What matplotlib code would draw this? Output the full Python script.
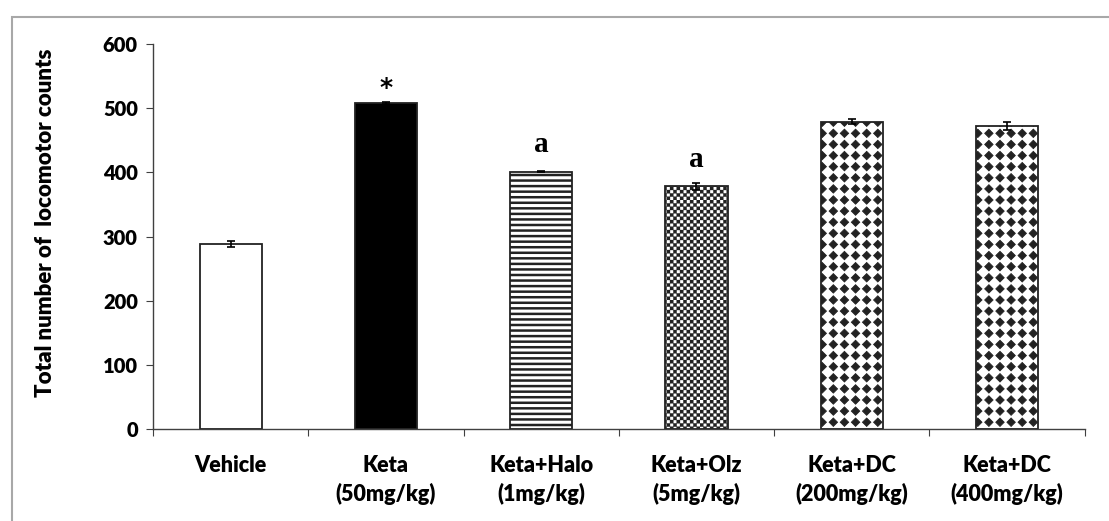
import numpy as np
import matplotlib
matplotlib.use('Agg')
import matplotlib.pyplot as plt
import matplotlib.hatch as mhatch
from matplotlib.path import Path
from matplotlib.patches import Rectangle

# data
groups = ['Vehicle', 'Keta\n(50mg/kg)', 'Keta+Halo\n(1mg/kg)', 'Keta+Olz\n(5mg/kg)',
          'Keta+DC\n(200mg/kg)', 'Keta+DC\n(400mg/kg)']
counts = [288, 508, 401, 378, 479, 472]
sem = [5, 2, 1, 5, 4, 6]
marks = ['', '*', 'a', 'a', '', '']

# fill styles of the bars
faces = ['white', 'black', 'white', 'white', 'white', 'white']
hatches = [None, None, '---', 'ooooo', '***', '***']
hatch_lw = [1.0, 1.0, 1.8, 0.2, 0.6, 0.6]


# two extra hatch fills: filled diamonds on a grid ('*') and a checkerboard ('o')
class DiamondDots(mhatch.HatchPatternBase):
    def __init__(self, hatch, density):
        self.n = hatch.count('*') * 3
        self.num_vertices = (self.n + 1) ** 2 * 5 if self.n else 0

    def set_vertices_and_codes(self, vertices, codes):
        step = 1.0 / self.n
        r = 0.38 * step
        shape = np.array([[0, -r], [r, 0], [0, r], [-r, 0], [0, -r]])
        k = 0
        for i in range(self.n + 1):
            for j in range(self.n + 1):
                vertices[k:k + 5] = shape + [i * step, j * step]
                codes[k:k + 5] = [Path.MOVETO, Path.LINETO, Path.LINETO,
                                  Path.LINETO, Path.CLOSEPOLY]
                k += 5


class Checker(mhatch.HatchPatternBase):
    def __init__(self, hatch, density):
        self.n = hatch.count('o') * 6
        self.num_vertices = (self.n * self.n // 2) * 5 if self.n else 0

    def set_vertices_and_codes(self, vertices, codes):
        s = 1.0 / self.n
        d = 0.5 * s
        shape = np.array([[-d, -d], [d, -d], [d, d], [-d, d], [-d, -d]])
        k = 0
        for i in range(self.n):
            for j in range(self.n):
                if (i + j) % 2:
                    continue
                vertices[k:k + 5] = shape + [(i + 0.5) * s, (j + 0.5) * s]
                codes[k:k + 5] = [Path.MOVETO, Path.LINETO, Path.LINETO,
                                  Path.LINETO, Path.CLOSEPOLY]
                k += 5


mhatch._hatch_types = [c for c in mhatch._hatch_types
                       if c not in (mhatch.Stars, mhatch.SmallCircles)] + [DiamondDots, Checker]

plt.rcParams['font.family'] = ['Lato', 'DejaVu Sans']
plt.rcParams['font.weight'] = 'heavy'
plt.rcParams['hatch.color'] = 'black'

fig = plt.figure(figsize=(11.09, 5.21), dpi=100)
ax = fig.add_axes([0.138, 0.1766, 0.840, 0.7389])

x = np.arange(len(groups))
for i in range(len(groups)):
    with plt.rc_context({'hatch.linewidth': hatch_lw[i]}):
        b = ax.bar(x[i], counts[i], width=0.4, color=faces[i], edgecolor='#222222',
                   linewidth=1.3, hatch=hatches[i], zorder=2)[0]
    if hasattr(b, 'set_hatch_linewidth'):
        b.set_hatch_linewidth(hatch_lw[i])

ax.errorbar(x, counts, yerr=sem, fmt='none', ecolor='black', elinewidth=1.2,
            capsize=3, capthick=1.2, zorder=3)

for i, m in enumerate(marks):
    if m == '*':
        ax.annotate(m, (x[i], counts[i]), xytext=(0, 2), textcoords='offset points',
                    ha='center', va='bottom', fontsize=18, family='DejaVu Sans')
    elif m:
        ax.annotate(m, (x[i], counts[i]), xytext=(0, 10), textcoords='offset points',
                    ha='center', va='bottom', fontsize=21, fontweight='bold',
                    family='Liberation Serif')

ax.set_xlim(-0.5, len(groups) - 0.5)
ax.set_ylim(0, 600)
ax.set_yticks(np.arange(0, 601, 100))
ax.set_xticks(np.arange(-0.5, len(groups), 1.0))
ax.set_xticklabels([])
ax.set_xticks(x, minor=True)
ax.set_xticklabels(groups, minor=True, linespacing=1.35)
ax.tick_params(axis='x', which='major', length=5, direction='out', color='#404040')
ax.tick_params(axis='x', which='minor', length=0, pad=19, labelsize=15.5)
ax.tick_params(axis='y', length=5, direction='out', color='#404040', labelsize=14.5, pad=6)

for sp in ['top', 'right']:
    ax.spines[sp].set_visible(False)
for sp in ['left', 'bottom']:
    ax.spines[sp].set_color('#404040')
    ax.spines[sp].set_linewidth(1.0)

ax.set_ylabel('Total number of  locomotor counts', fontsize=16, fontweight='heavy')
ax.yaxis.set_label_coords(-0.104, 0.535)

# outer frame of the original figure
fig.add_artist(Rectangle((12 / 1109, -0.05), 1.1, 1.05 - 17 / 521, transform=fig.transFigure,
                         fill=False, edgecolor='#a8a8a8', linewidth=1.5))

fig.savefig('out.png', dpi=100)
